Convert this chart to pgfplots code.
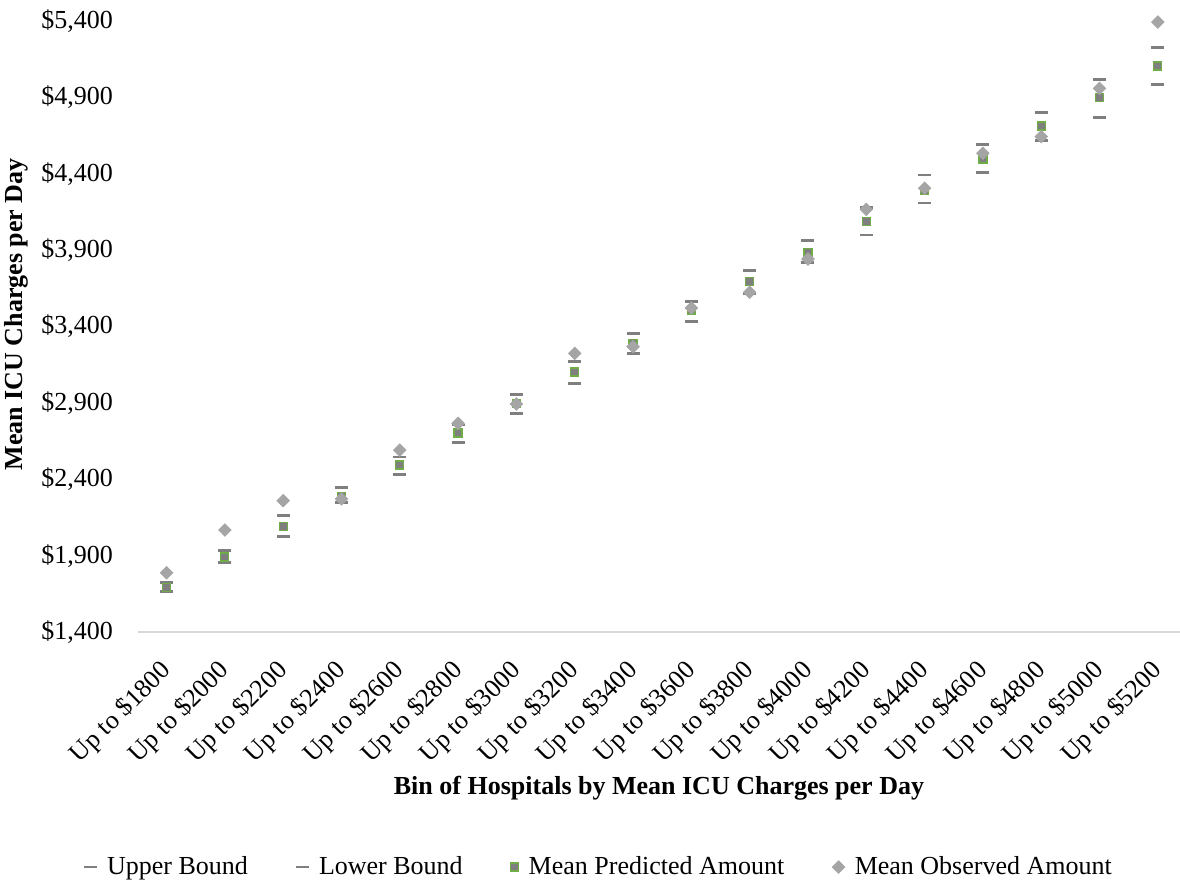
\documentclass[border=0pt]{standalone}
\usepackage{fontspec}
\setmainfont{Liberation Serif}
\usepackage{pgfplots}
\pgfplotsset{compat=1.18}
\usepackage{pgfplotstable}
\definecolor{boundgray}{HTML}{7F7F7F}
\definecolor{obsgray}{HTML}{A5A5A5}
\definecolor{predgreen}{HTML}{70AD47}
\definecolor{axisgray}{HTML}{D9D9D9}
\pgfplotstableread{
idx upper lower pred obs
0 1725 1664 1693 1788
1 1935 1856 1891 2068
2 2161 2024 2092 2260
3 2345 2247 2286 2272
4 2546 2432 2493 2591
5 2755 2642 2703 2766
6 2956 2832 2897 2893
7 3172 3026 3102 3224
8 3353 3224 3290 3268
9 3565 3434 3508 3521
10 3765 3617 3696 3624
11 3964 3818 3883 3842
12 4180 3999 4086 4167
13 4392 4209 4293 4305
14 4593 4409 4497 4534
15 4800 4619 4713 4643
16 5018 4767 4898 4959
17 5228 4983 5105 5393
}\datatable
\begin{document}
\begin{tikzpicture}
\begin{axis}[
  scale only axis,
  width=521pt, height=305.5pt,
  xmin=-0.49, xmax=17.38,
  ymin=1400, ymax=5400,
  clip=false,
  axis x line*=bottom,
  axis y line*=left,
  x axis line style={draw=axisgray, line width=0.8pt, -},
  y axis line style={draw=none},
  xtick={0,...,17},
  xticklabels={Up to \$1800,Up to \$2000,Up to \$2200,Up to \$2400,Up to \$2600,Up to \$2800,Up to \$3000,Up to \$3200,Up to \$3400,Up to \$3600,Up to \$3800,Up to \$4000,Up to \$4200,Up to \$4400,Up to \$4600,Up to \$4800,Up to \$5000,Up to \$5200},
  x tick label style={xshift=-4pt, yshift=-11.5pt, rotate=45, anchor=north east, font=\fontsize{13}{15}\selectfont, inner sep=1pt},
  major tick length=0pt,
  ytick={1400,1900,...,5400},
  yticklabels={{\$1,400},{\$1,900},{\$2,400},{\$2,900},{\$3,400},{\$3,900},{\$4,400},{\$4,900},{\$5,400}},
  y tick label style={font=\fontsize{13}{15}\selectfont, anchor=east, xshift=-9pt},
  xlabel={\textbf{Bin of Hospitals by Mean ICU Charges per Day}},
  xlabel style={font=\fontsize{13}{15}\selectfont, at={(axis description cs:0.5,-0.2553)}, anchor=center},
  ylabel={\textbf{Mean ICU Charges per Day}},
  ylabel style={font=\fontsize{13}{15}\selectfont, at={(axis description cs:-0.117,0.52)}, anchor=center},
  legend columns=4,
  legend style={at={(axis description cs:0.4434,-0.3846)}, anchor=center, draw=none, fill=none,
    font=\fontsize{13}{15}\selectfont,
    /tikz/every odd column/.append style={column sep=3pt},
    /tikz/every even column/.append style={column sep=22pt}},
  legend cell align=left,
]
\addplot[only marks, mark=-, mark size=3.25pt, mark options={draw=boundgray, line width=1.3pt}] table[x=idx, y=upper] {\datatable};
\addlegendentry{Upper Bound}
\addplot[only marks, mark=-, mark size=3.25pt, mark options={draw=boundgray, line width=1.3pt}] table[x=idx, y=lower] {\datatable};
\addlegendentry{Lower Bound}
\addplot[only marks, mark=square*, mark size=2pt, mark options={draw=predgreen, fill=boundgray, line width=0.6pt}] table[x=idx, y=pred] {\datatable};
\addlegendentry{Mean Predicted Amount}
\addplot[only marks, mark=square*, mark size=2.2pt, mark options={draw=obsgray, fill=obsgray, rotate=45}] table[x=idx, y=obs] {\datatable};
\addlegendentry{Mean Observed Amount}
\coordinate (bbA) at (axis description cs:-0.1324,1.0344);
\coordinate (bbB) at (axis description cs:1.0,-0.4075);
\end{axis}
\pgfresetboundingbox
\path[use as bounding box] (bbA) rectangle (bbB);
\end{tikzpicture}
\end{document}
